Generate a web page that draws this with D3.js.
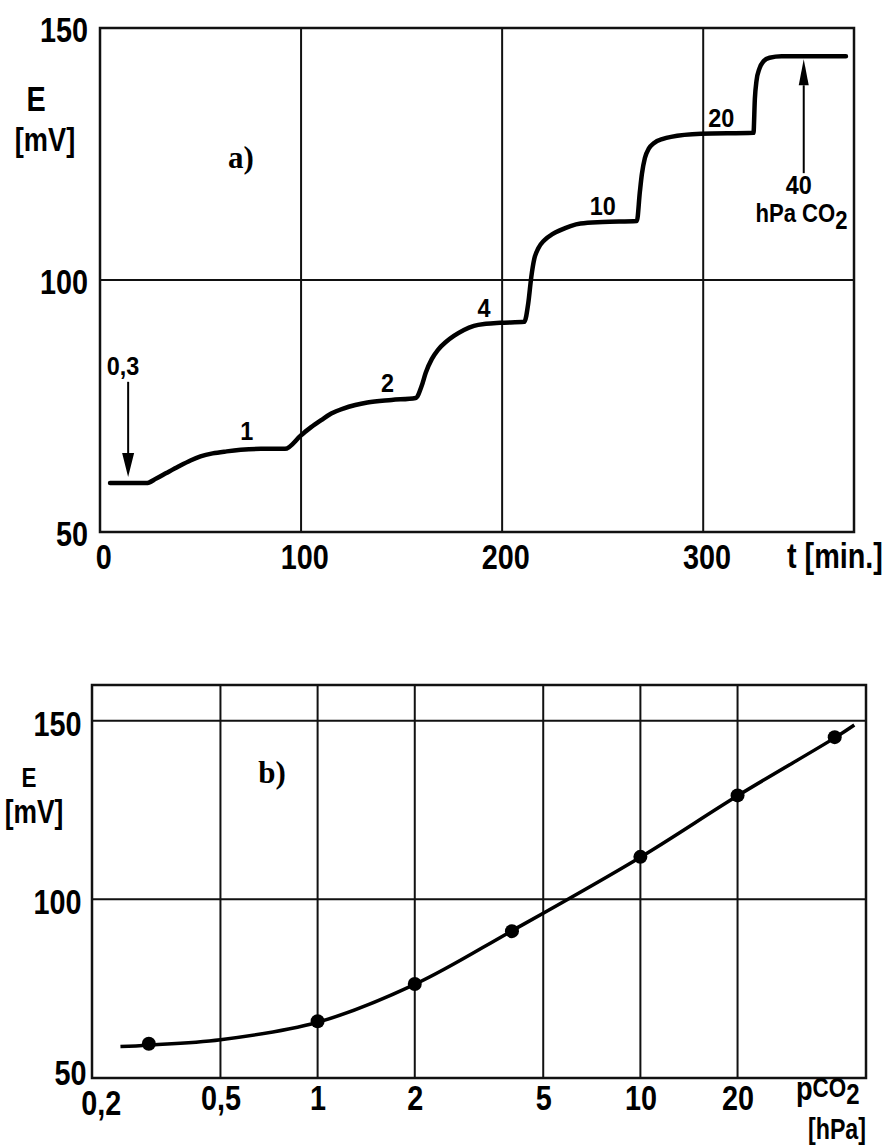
<!DOCTYPE html>
<html>
<head>
<meta charset="utf-8">
<script src="https://cdn.jsdelivr.net/npm/d3@7"></script>
<style>
  body { margin: 0; background: #fff; }
  svg { display: block; font-family: "Liberation Sans", Arial, sans-serif; font-weight: bold; }
  .grid, .frame { stroke: #111; fill: none; }
  .serif { font-family: "Liberation Serif", "Times New Roman", serif; }
</style>
</head>
<body>
<div id="chart"></div>
<script>
// ---- panel a) : E vs time, stepwise pCO2 increase ----
var timeMin = [5, 23, 28, 33, 39, 45, 50, 56, 63, 70, 80, 92,
  100, 105, 110, 115, 121, 127, 133, 145, 157,
  160, 162, 165, 168, 172, 176, 181, 186, 192, 199, 211,
  213, 214.5, 216, 218, 221, 225, 229, 234, 239, 250, 267,
  268.5, 269.5, 271, 273, 275.6, 280, 284, 299, 325,
  325.7, 326.5, 328, 330, 333, 339, 371];
var potentialMv = [59.7, 59.7, 60.6, 61.7, 63.0, 64.2, 65.0, 65.6, 66.0, 66.3, 66.5, 66.5,
  69.2, 70.8, 72.2, 73.5, 74.5, 75.2, 75.7, 76.2, 76.6,
  79.0, 81.6, 84.3, 86.1, 87.7, 88.9, 90.1, 90.9, 91.3, 91.5, 91.7,
  95.4, 100.6, 104.2, 106.3, 107.9, 109.1, 109.9, 110.7, 111.2, 111.5, 111.7,
  117.5, 121.0, 124.2, 126.1, 127.2, 128.0, 128.4, 129.0, 129.2,
  136.0, 139.5, 142.0, 143.4, 144.1, 144.4, 144.4];
var timeTicks = [0, 100, 200, 300];
var eTicks = [50, 100, 150];

// step labels (hPa CO2) placed in data units
var stepText = ["1", "2", "4", "10", "20"];
var stepT = [73, 143, 191, 250, 309];
var stepE = [68.3, 77.8, 92.7, 112.9, 130.4];

// ---- panel b) : E vs log pCO2 ----
var pco2 = [0.3, 1, 2, 4, 10, 20, 40];
var ePoints = [59.6, 65.9, 76.3, 91.1, 111.9, 129.1, 145.4];
var fitP = [0.245, 0.3, 0.5, 1, 2, 4, 10, 20, 40, 46];
var fitE = [58.8, 59.2, 60.7, 65.6, 76.2, 91.2, 111.8, 129.0, 145.2, 148.8];
var pTicks = [0.2, 0.5, 1, 2, 5, 10, 20];

var svg = d3.select( "#chart" ).append( "svg" )
  .attr( "width", 888 )
  .attr( "height", 1146 );

function label( g, x, y, s, size, anchor, sx ) {
  return g.append( "text" )
    .attr( "transform", "translate(" + x + "," + y + ") scale(" + sx + ",1)" )
    .attr( "text-anchor", anchor )
    .attr( "font-size", size )
    .attr( "fill", "#000" )
    .text( s );
}

function styleAxis( ax, size ) {
  ax.select( ".domain" ).remove();
  ax.attr( "font-family", null ).attr( "font-size", null );
  ax.selectAll( "text" )
    .attr( "font-size", size )
    .attr( "fill", "#000" )
    .attr( "transform", "scale(0.8,1)" );
}

// =================== a) ===================
var xA = d3.scaleLinear().domain( [0, 375] ).range( [100, 854] );
var yA = d3.scaleLinear().domain( [50, 150] ).range( [532, 28] );
var gA = svg.append( "g" );

gA.selectAll( ".vgrid" )
  .data( timeTicks.slice( 1 ) )
  .enter().append( "line" )
  .attr( "class", "grid" )
  .attr( "x1", function ( d ) { return xA( d ); } )
  .attr( "x2", function ( d ) { return xA( d ); } )
  .attr( "y1", yA.range()[0] )
  .attr( "y2", yA.range()[1] )
  .attr( "stroke-width", 2 );

gA.selectAll( ".hgrid" )
  .data( [100] )
  .enter().append( "line" )
  .attr( "class", "grid" )
  .attr( "x1", xA.range()[0] )
  .attr( "x2", xA.range()[1] )
  .attr( "y1", function ( d ) { return yA( d ); } )
  .attr( "y2", function ( d ) { return yA( d ); } )
  .attr( "stroke-width", 2 );

gA.append( "rect" )
  .attr( "class", "frame" )
  .attr( "x", xA.range()[0] )
  .attr( "y", yA.range()[1] )
  .attr( "width", xA.range()[1] - xA.range()[0] )
  .attr( "height", yA.range()[0] - yA.range()[1] )
  .attr( "stroke-width", 2.5 );

var axLA = gA.append( "g" )
  .attr( "transform", "translate(" + xA.range()[0] + ",2)" )
  .call( d3.axisLeft( yA ).tickValues( eTicks ).tickSize( 0 ).tickPadding( 15 ) );
styleAxis( axLA, 36 );

var axBA = gA.append( "g" )
  .attr( "transform", "translate(0," + yA.range()[0] + ")" )
  .call( d3.axisBottom( xA ).tickValues( timeTicks ).tickSize( 0 ).tickPadding( 11 ) );
styleAxis( axBA, 36 );
axBA.selectAll( "text" ).attr( "dx", 4 );

label( gA, 36, 111, "E", 36, "middle", 0.8 );
label( gA, 45, 151, "[mV]", 34, "middle", 0.8 );
label( gA, 787, 568, "t [min.]", 36, "start", 0.8 );
label( gA, 241, 168, "a)", 31, "middle", 1 ).attr( "class", "serif" );

var lineA = d3.line()
  .x( function ( d, i ) { return xA( timeMin[i] ); } )
  .y( function ( d, i ) { return yA( potentialMv[i] ); } )
  .curve( d3.curveMonotoneX );

gA.append( "path" )
  .datum( timeMin )
  .attr( "d", lineA )
  .attr( "fill", "none" )
  .attr( "stroke", "#000" )
  .attr( "stroke-width", 4.5 )
  .attr( "stroke-linejoin", "round" )
  .attr( "stroke-linecap", "round" );

stepText.forEach( function ( s, i ) {
  label( gA, xA( stepT[i] ), yA( stepE[i] ), s, 26, "middle", 0.9 );
} );

// arrow 0,3 (pointing down) and arrow 40 (pointing up)
function arrow( g, t, eFrom, eTip, head, half ) {
  var x = xA( t ), y0 = yA( eFrom ), y1 = yA( eTip );
  var dir = y1 > y0 ? 1 : -1;
  g.append( "line" )
    .attr( "x1", x ).attr( "x2", x )
    .attr( "y1", y0 ).attr( "y2", y1 - dir * head )
    .attr( "stroke", "#000" ).attr( "stroke-width", 2 );
  g.append( "path" )
    .attr( "d", "M" + x + "," + y1 + "L" + ( x - half ) + "," + ( y1 - dir * head ) + "L" + ( x + half ) + "," + ( y1 - dir * head ) + "Z" )
    .attr( "fill", "#000" );
}
arrow( gA, 14, 79.8, 60.9, 24, 6 );
arrow( gA, 350, 121.2, 143.8, 26, 5 );

label( gA, xA( 11.5 ), yA( 81.2 ), "0,3", 26, "middle", 0.9 );
label( gA, xA( 347.5 ), yA( 117.1 ), "40", 26, "middle", 0.9 );
var co2 = label( gA, xA( 326 ), yA( 111.5 ), "hPa CO", 26, "start", 0.85 );
co2.append( "tspan" ).attr( "dy", 7 ).text( "2" );

// =================== b) ===================
var xB = d3.scaleLog().domain( [0.2, 50] ).range( [92, 866] );
var yB = d3.scaleLinear().domain( [50, 160] ).range( [1078, 685] );
var gB = svg.append( "g" );

gB.selectAll( ".vgrid" )
  .data( pTicks.slice( 1 ) )
  .enter().append( "line" )
  .attr( "class", "grid" )
  .attr( "x1", function ( d ) { return xB( d ); } )
  .attr( "x2", function ( d ) { return xB( d ); } )
  .attr( "y1", yB.range()[0] )
  .attr( "y2", yB.range()[1] )
  .attr( "stroke-width", 2 );

gB.selectAll( ".hgrid" )
  .data( [100, 150] )
  .enter().append( "line" )
  .attr( "class", "grid" )
  .attr( "x1", xB.range()[0] )
  .attr( "x2", xB.range()[1] )
  .attr( "y1", function ( d ) { return yB( d ); } )
  .attr( "y2", function ( d ) { return yB( d ); } )
  .attr( "stroke-width", 2 );

gB.append( "rect" )
  .attr( "class", "frame" )
  .attr( "x", xB.range()[0] )
  .attr( "y", yB.range()[1] )
  .attr( "width", xB.range()[1] - xB.range()[0] )
  .attr( "height", yB.range()[0] - yB.range()[1] )
  .attr( "stroke-width", 2.5 );

var axLB = gB.append( "g" )
  .attr( "transform", "translate(" + xB.range()[0] + ",3)" )
  .call( d3.axisLeft( yB ).tickValues( eTicks ).tickSize( 0 ).tickPadding( 13 ) );
styleAxis( axLB, 36 );
axLB.selectAll( "text" ).filter( function ( d ) { return d === 50; } ).attr( "dy", "0.1em" ).attr( "dx", 6 );

var axBB = gB.append( "g" )
  .attr( "transform", "translate(0," + yB.range()[0] + ")" )
  .call( d3.axisBottom( xB ).tickValues( pTicks ).tickSize( 0 ).tickPadding( 6 )
    .tickFormat( function ( d ) { return String( d ).replace( ".", "," ); } ) );
styleAxis( axBB, 36 );
axBB.selectAll( "text" ).filter( function ( d ) { return d === 0.2; } ).attr( "dx", 11 ).attr( "dy", "0.85em" );

label( gB, 29, 787, "E", 28, "middle", 0.8 );
label( gB, 34, 823, "[mV]", 33, "middle", 0.8 );
var pco = label( gB, 796, 1100, "p", 34, "start", 0.8 );
pco.append( "tspan" ).attr( "dy", -3 ).attr( "font-size", 28 ).text( "CO" );
pco.append( "tspan" ).attr( "dy", 7 ).attr( "font-size", 30 ).text( "2" );
label( gB, 837, 1139, "[hPa]", 29, "middle", 0.8 );
label( gB, 272, 783, "b)", 31, "middle", 1 ).attr( "class", "serif" );

var lineB = d3.line()
  .x( function ( d, i ) { return xB( fitP[i] ); } )
  .y( function ( d, i ) { return yB( fitE[i] ); } )
  .curve( d3.curveCatmullRom.alpha( 0.5 ) );

gB.append( "path" )
  .datum( fitP )
  .attr( "d", lineB )
  .attr( "fill", "none" )
  .attr( "stroke", "#000" )
  .attr( "stroke-width", 3.5 );

gB.selectAll( ".dot" )
  .data( pco2 )
  .enter().append( "circle" )
  .attr( "class", "dot" )
  .attr( "cx", function ( d ) { return xB( d ); } )
  .attr( "cy", function ( d, i ) { return yB( ePoints[i] ); } )
  .attr( "r", 7 )
  .attr( "fill", "#000" );
</script>
</body>
</html>
